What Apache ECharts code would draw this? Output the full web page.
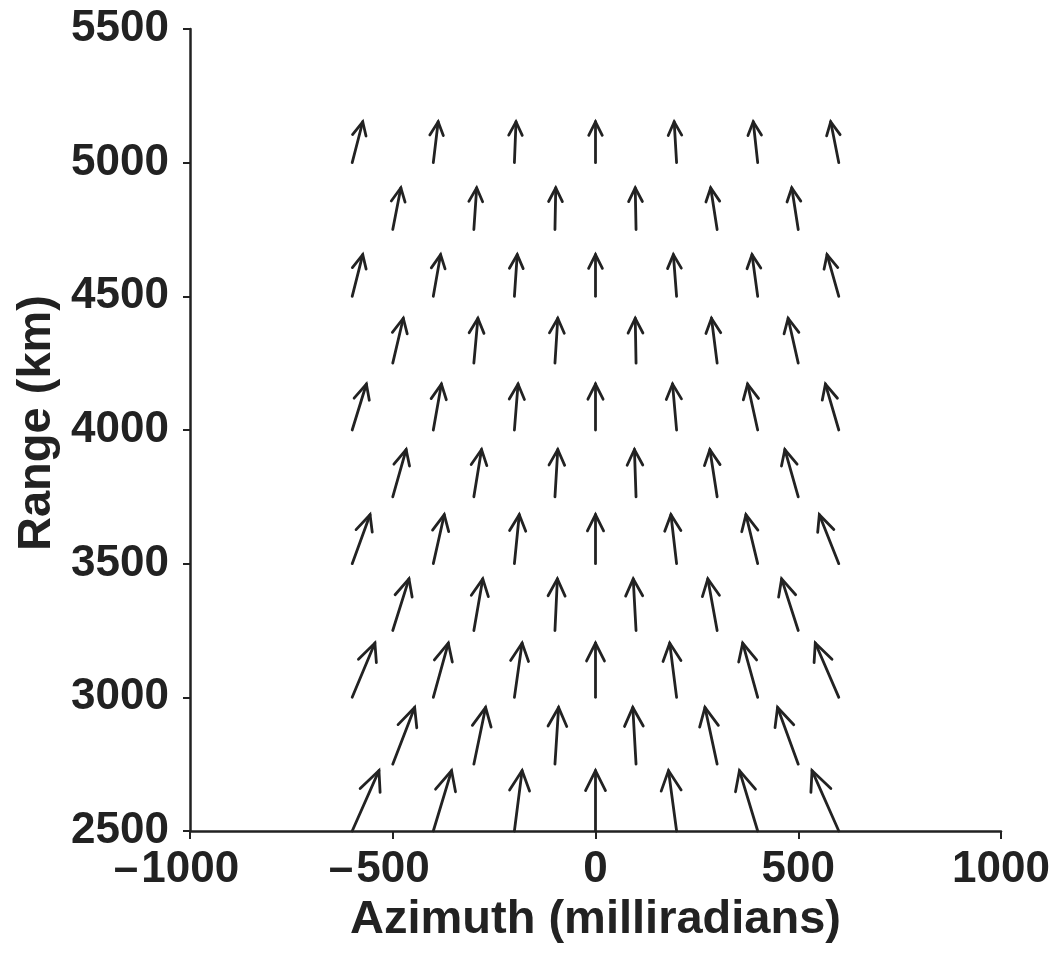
<!DOCTYPE html>
<html>
<head>
<meta charset="utf-8">
<title>Range vs Azimuth vector field</title>
<script src="https://cdn.jsdelivr.net/npm/echarts@6/dist/echarts.min.js"></script>
<style>
  html, body { margin: 0; padding: 0; background: #ffffff; }
  #chart { width: 1061px; height: 963px; }
</style>
</head>
<body>
<div id="chart"></div>
<script>
// Grid rows: full rows sit on the 500 km marks, staggered rows halfway between.
const ranges = [2500, 2750, 3000, 3250, 3500, 3750, 4000, 4250, 4500, 4750, 5000];
const fullRowAzimuths = [-600, -400, -200, 0, 200, 400, 600];
const halfRowAzimuths = [-500, -300, -100, 100, 300, 500];

// Vector components per row: azimuth change (milliradians) for each arrow in the row
const dAzimuth = [
  [66, 45, 19, 0, -20, -45, -66],
  [54, 29, 9, -8, -30, -51],
  [56, 37, 19, 0, -17, -37, -58],
  [40, 22, 6, -7, -23, -41],
  [44, 27, 12, 0, -14, -29, -48],
  [33, 19, 7, -4, -18, -33],
  [35, 20, 9, 0, -10, -25, -33],
  [26, 10, 7, -2, -14, -25],
  [26, 18, 7, 0, -8, -14, -29],
  [20, 7, 2, -2, -16, -16],
  [26, 12, 4, 0, -6, -11, -20]
];
// ...and range change (km), one value per row
const dRange = [226, 212, 203, 193, 183, 177, 172, 168, 156, 156, 153];

const xTicks = { min: -1000, max: 1000, step: 500 };
const yTicks = { min: 2500, max: 5500, step: 500 };

// Flatten into [azimuth, range, dAz, dRange] records
const vectors = [];
ranges.forEach((r, i) => {
  const az = i % 2 === 0 ? fullRowAzimuths : halfRowAzimuths;
  az.forEach((x, j) => vectors.push([x, r, dAzimuth[i][j], dRange[i]]));
});

const INK = '#222222';
const FONT = '"Liberation Sans", Arial, Helvetica, sans-serif';

// Quiver arrow: shaft plus open head, head geometry computed in data units
function renderArrow(params, api) {
  const x = api.value(0), y = api.value(1), u = api.value(2), v = api.value(3);
  const alpha = 0.33, beta = 0.33;
  const tail = api.coord([x, y]);
  const tip = api.coord([x + u, y + v]);
  const h1 = api.coord([x + u - alpha * (u + beta * v), y + v - alpha * (v - beta * u)]);
  const h2 = api.coord([x + u - alpha * (u - beta * v), y + v - alpha * (v + beta * u)]);
  const style = { stroke: INK, lineWidth: 2.8, fill: null, lineCap: 'round', lineJoin: 'miter' };
  return {
    type: 'group',
    children: [
      { type: 'line', shape: { x1: tail[0], y1: tail[1], x2: tip[0], y2: tip[1] }, style: style },
      { type: 'polyline', shape: { points: [h1, tip, h2] }, style: style }
    ]
  };
}

// Negative tick labels: the dash hangs to the left so the digits stay centred on the tick
const azimuthLabel = (val) => val < 0
  ? '{m|\u2013}' + String(-val) + '{p| }'
  : String(val);
const plainNumber = (val) => String(val);

const chart = echarts.init(document.getElementById('chart'), null, { renderer: 'canvas' });

chart.setOption({
  backgroundColor: '#ffffff',
  animation: false,
  grid: { left: 190, right: 60, top: 29, bottom: 132, containLabel: false, outerBoundsMode: 'none' },
  xAxis: {
    type: 'value',
    min: xTicks.min,
    max: xTicks.max,
    interval: xTicks.step,
    name: 'Azimuth (milliradians)',
    nameLocation: 'middle',
    nameGap: 61,
    nameTextStyle: { fontFamily: FONT, fontSize: 47, fontWeight: 'bold', color: INK },
    axisLine: { onZero: false, lineStyle: { color: INK, width: 2.5 } },
    axisTick: { show: true, inside: false, length: 8, lineStyle: { color: INK, width: 2 } },
    axisLabel: {
      margin: 17,
      fontFamily: FONT, fontSize: 44, fontWeight: 'bold', color: INK,
      formatter: azimuthLabel,
      rich: {
        m: { fontFamily: FONT, fontSize: 44, fontWeight: 'bold', color: INK, padding: [0, 3, 0, 0] },
        p: { fontFamily: FONT, fontSize: 44, fontWeight: 'bold', color: INK, width: 27 }
      }
    },
    splitLine: { show: false }
  },
  yAxis: {
    type: 'value',
    min: yTicks.min,
    max: yTicks.max,
    interval: yTicks.step,
    name: 'Range (km)',
    nameLocation: 'middle',
    nameGap: 128,
    nameTextStyle: { fontFamily: FONT, fontSize: 47, fontWeight: 'bold', color: INK, padding: [0, 0, 0, 14] },
    axisLine: { show: true, onZero: false, lineStyle: { color: INK, width: 2.5 } },
    axisTick: { show: true, inside: false, length: 7, lineStyle: { color: INK, width: 2 } },
    axisLabel: {
      margin: 21, fontFamily: FONT, fontSize: 44, fontWeight: 'bold', color: INK,
      formatter: plainNumber
    },
    splitLine: { show: false }
  },
  series: [{
    type: 'custom',
    name: 'vectors',
    clip: false,
    renderItem: renderArrow,
    encode: { x: 0, y: 1 },
    data: vectors,
    silent: true
  }]
});
</script>
</body>
</html>
